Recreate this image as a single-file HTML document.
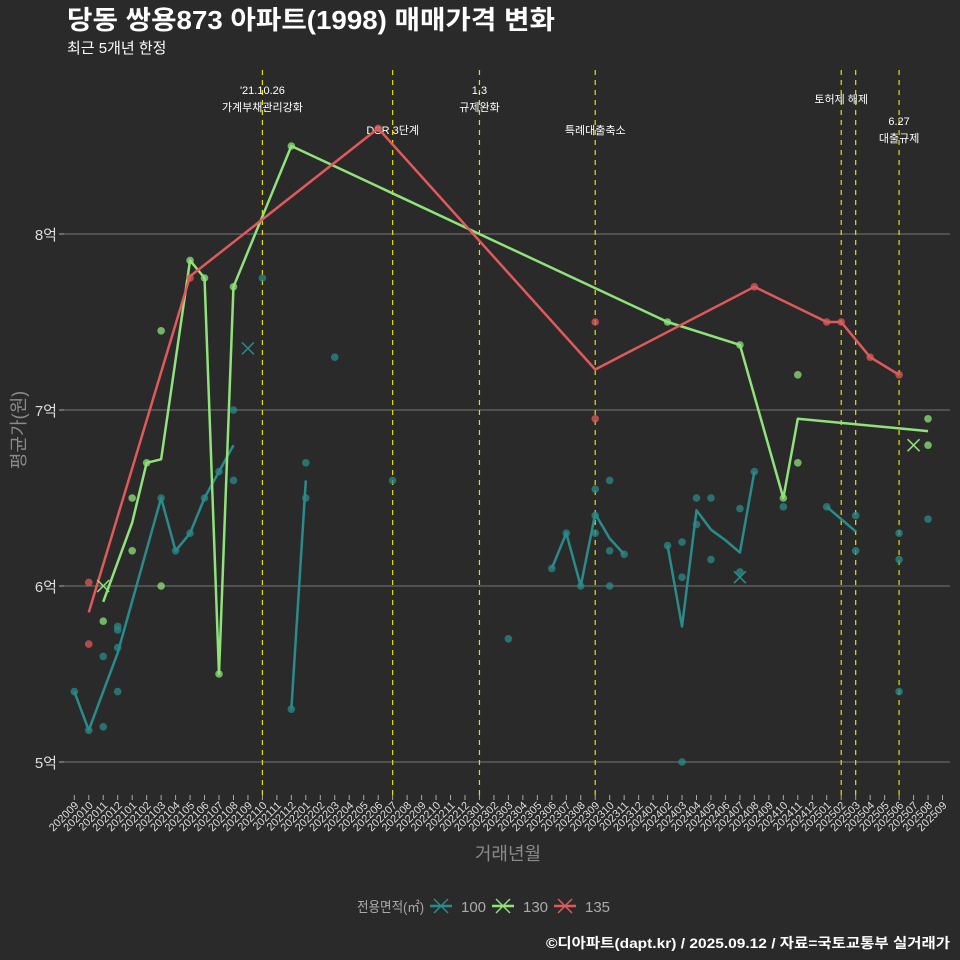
<!DOCTYPE html>
<html><head><meta charset="utf-8">
<style>
html,body{margin:0;padding:0;background:#2b2a2b;}
svg{display:block;font-family:"Liberation Sans","Noto Sans CJK KR",sans-serif;}
</style></head>
<body>
<svg id="chart" width="960" height="960" viewBox="0 0 960 960">
<rect width="960" height="960" fill="#2b2a2b"/>
<text x="67" y="29" fill="#ffffff" font-size="26" font-weight="bold" textLength="488" lengthAdjust="spacingAndGlyphs">당동 쌍용873 아파트(1998) 매매가격 변화</text>
<text x="67" y="53" fill="#ffffff" font-size="15">최근 5개년 한정</text>
<g id="grid"></g><g id="events"></g><g id="lines"></g><g id="points"></g><g id="axes"></g>
<text x="20" y="430" fill="#8a8a8a" font-size="18" transform="rotate(-90 20 430)" text-anchor="middle" dominant-baseline="middle">평균가(원)</text>
<text x="508" y="860" fill="#8a8a8a" font-size="18" text-anchor="middle">거래년월</text>
<g>
<text x="357" y="912" fill="#aaaaaa" font-size="14" textLength="67" lengthAdjust="spacingAndGlyphs">전용면적(㎡)</text>
</g>
<g id="legend"></g>
<text x="950" y="948" fill="#ffffff" font-size="14" font-weight="bold" text-anchor="end" textLength="404" lengthAdjust="spacingAndGlyphs">©디아파트(dapt.kr) / 2025.09.12 / 자료=국토교통부 실거래가</text>
</svg>
<script>
const months = [];
for (let y=2020,m=9; !(y===2025&&m===10); ) { months.push(String(y)+String(m).padStart(2,'0')); m++; if(m>12){m=1;y++;} }
const yTicks = [5,6,7,8];
const yTickLabels = ['5억','6억','7억','8억'];
const seriesNames = ['100','130','135'];
const seriesColors = ['#2a8b8b','#8fe37a','#e05a5a'];
const line100 = [
 [[0,5.4],[1,5.18],[2,5.4],[3,5.62],[6,6.5],[7,6.2],[8,6.3],[9,6.5],[10,6.65],[11,6.8]],
 [[15,5.3],[16,6.6]],
 [[33,6.1],[34,6.3],[35,6.0],[36,6.41],[37,6.27],[38,6.18]],
 [[41,6.23],[42,5.77],[43,6.43],[44,6.32],[45,6.26],[46,6.19],[47,6.65]],
 [[52,6.45],[54,6.31]]
];
const line130 = [
 [[2,5.91],[4,6.36],[5,6.7],[6,6.72],[8,7.85],[9,7.75],[10,5.5],[11,7.7],[15,8.5],[41,7.5],[46,7.37],[49,6.5],[50,6.95],[59,6.88]]
];
const line135 = [
 [[1,5.85],[8,7.76],[21,8.6],[36,7.23],[47,7.7],[52,7.5],[53,7.5],[55,7.3],[57,7.2]]
];
const pts100 = [[0,5.4],[1,5.18],[2,5.6],[2,5.2],[3,5.77],[3,5.75],[3,5.65],[3,5.4],[6,6.5],[7,6.2],[8,6.3],[9,6.5],[10,6.65],[11,7.0],[11,6.6],[13,7.75],[16,6.7],[16,6.5],[15,5.3],[18,7.3],[22,6.6],[30,5.7],[33,6.1],[34,6.3],[35,6.0],[36,6.55],[36,6.3],[36,6.4],[37,6.6],[37,6.2],[37,6.0],[38,6.18],[41,6.23],[42,6.25],[42,6.05],[42,5.0],[43,6.5],[43,6.35],[44,6.5],[44,6.15],[46,6.44],[46,6.08],[47,6.65],[49,6.45],[52,6.45],[54,6.4],[54,6.2],[57,6.3],[57,6.15],[57,5.4],[59,6.38]];
const pts130 = [[2,5.8],[4,6.5],[4,6.2],[6,7.45],[6,6.0],[5,6.7],[8,7.85],[9,7.75],[10,5.5],[11,7.7],[15,8.5],[41,7.5],[46,7.37],[49,6.5],[50,7.2],[50,6.7],[59,6.95],[59,6.8]];
const pts135 = [[1,6.02],[1,5.67],[8,7.75],[21,8.6],[36,7.5],[36,6.95],[47,7.7],[52,7.5],[53,7.5],[55,7.3],[57,7.2]];
const xMarks100 = [[12,7.35],[46,6.05]];
const xMarks130 = [[2,6.0],[58,6.8]];
const eventMonths = [13,22,28,36,53,54,57];
const eventLabels = [["'21.10.26","가계부채관리강화"],["DSR 3단계"],["1.3","규제완화"],["특례대출축소"],["토허제 해제"],[],["6.27","대출규제"]];
const eventLabelY = [94,134,94,134,103,0,125];

const NS='http://www.w3.org/2000/svg';
const xs = i => 74.3 + i*14.47;
const ys = v => 762 - (v-5)*176;
function mk(tag, attrs, parent){const e=document.createElementNS(NS,tag);for(const k in attrs)e.setAttribute(k,attrs[k]);parent.appendChild(e);return e;}
const G=id=>document.getElementById(id);

yTicks.forEach((t,i)=>{
 const l=mk('line',{x1:64,x2:950,y1:ys(t),y2:ys(t),stroke:'#777','stroke-width':1},G('grid'));
 
 
 const tk=mk('line',{x1:59,x2:64,y1:ys(t),y2:ys(t),stroke:'#aaa'},G('axes'));
 
 
 const tx=mk('text',{x:57,y:ys(t)+6,fill:'#dddddd','font-size':15,'text-anchor':'end'},G('axes'));
 tx.textContent=yTickLabels[i];
 
 
});
months.forEach((m,i)=>{
 const x=xs(i);
 const tk=mk('line',{x1:x,x2:x,y1:795,y2:800,stroke:'#aaa'},G('axes'));
 
 
 const tx=mk('text',{x:x+5,y:806,fill:'#dddddd','font-size':11,'text-anchor':'end',transform:`rotate(-45 ${x+5} 806)`},G('axes'));
 tx.textContent=m;
 
 
});
eventMonths.forEach((mi,i)=>{
 const x=xs(mi);
 const l=mk('line',{x1:x,x2:x,y1:70,y2:795,stroke:'#e5e000','stroke-width':1.2,'stroke-dasharray':'5,5'},G('events'));
 
 
 eventLabels[i].forEach((s,j)=>{
  const t=mk('text',{x:x,y:eventLabelY[i]+j*17,fill:'#ffffff','font-size':11,'text-anchor':'middle'},G('events'));
  t.textContent=s;
  
  
 });
});
[line100,line130,line135].forEach((segs,si)=>{
 segs.forEach(seg=>{
  const p=mk('polyline',{points:seg.map(d=>xs(d[0])+','+ys(d[1])).join(' '),fill:'none',stroke:seriesColors[si],'stroke-width':2.5,'stroke-linejoin':'round'},G('lines'));
  
  
 });
});
[pts100,pts130,pts135].forEach((pts,si)=>{
 pts.forEach(d=>{
  const c=mk('circle',{cx:xs(d[0]),cy:ys(d[1]),r:3.8,fill:seriesColors[si],'fill-opacity':0.75},G('points'));
  
  
 });
});
function drawX(x,y,col,parent,name,sz){
 const g=mk('g',{},parent);
 
 
 mk('line',{x1:x-sz,y1:y-sz,x2:x+sz,y2:y+sz,stroke:col,'stroke-width':1.5},g);
 mk('line',{x1:x-sz,y1:y+sz,x2:x+sz,y2:y-sz,stroke:col,'stroke-width':1.5},g);
 return g;
}
xMarks100.forEach(d=>{drawX(xs(d[0]),ys(d[1]),seriesColors[0],G('points'),'cancel-mark-100',6);});
xMarks130.forEach(d=>{drawX(xs(d[0]),ys(d[1]),seriesColors[1],G('points'),'cancel-mark-130',6);});
const keyX=[441,503,565];
seriesNames.forEach((n,i)=>{
 const x=keyX[i];
 const g=drawX(x,906,seriesColors[i],G('legend'),'legend-key-'+n,7);
 mk('line',{x1:x-11,x2:x+11,y1:906,y2:906,stroke:seriesColors[i],'stroke-width':2.5},g);
 const t=mk('text',{x:x+20,y:912,fill:'#aaaaaa','font-size':15},G('legend'));
 t.textContent=n;
 
 
});
</script>
</body></html>
